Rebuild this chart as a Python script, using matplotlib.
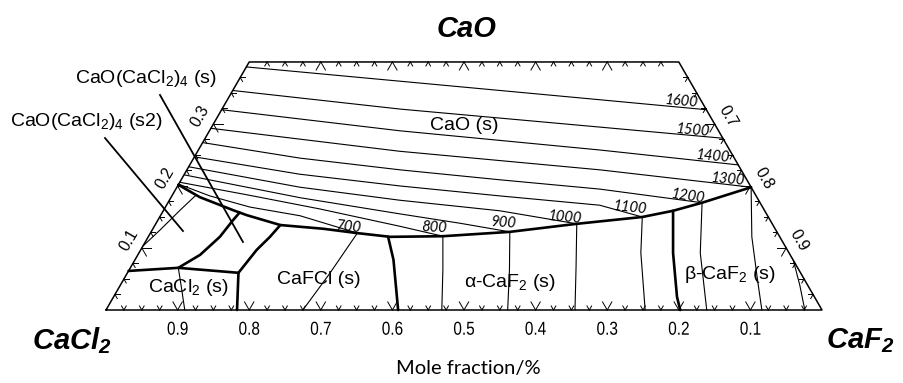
import numpy as np
import matplotlib
matplotlib.use("Agg")
import matplotlib.pyplot as plt
from matplotlib import font_manager
from matplotlib.font_manager import FontProperties
from matplotlib.textpath import TextPath
from matplotlib.patches import PathPatch
from matplotlib.transforms import Affine2D

H = np.sqrt(3) / 2
TOP = 0.4  # the diagram is cut at x(CaO) = 0.4
PT = (100 / 72) / 716  # one point in data units

plt.rcParams["mathtext.fontset"] = "custom"
plt.rcParams["mathtext.rm"] = "Liberation Sans"
plt.rcParams["mathtext.it"] = "Liberation Sans:italic"
plt.rcParams["mathtext.bf"] = "Liberation Sans:bold:italic"

# Compositions are (x_CaF2, x_CaO); x_CaCl2 is the remainder.
# Liquidus isotherms inside the CaO primary field
iso_cao = {
    "1600": [(0.000, 0.392), (0.226, 0.369), (0.521, 0.339), (0.677, 0.323)],
    "1500": [(0.000, 0.354), (0.249, 0.324), (0.542, 0.295), (0.723, 0.277)],
    "1400": [(0.000, 0.323), (0.266, 0.289), (0.561, 0.258), (0.766, 0.234)],
    "1300": [(0.000, 0.293), (0.282, 0.256), (0.577, 0.226), (0.802, 0.198)],
    "1200": [(0.000, 0.270), (0.148, 0.245), (0.298, 0.226), (0.445, 0.210), (0.592, 0.195), (0.746, 0.173)],
    "1100": [(0.000, 0.247), (0.161, 0.219), (0.311, 0.200), (0.458, 0.184), (0.605, 0.169), (0.674, 0.150)],
    "1000": [(0.000, 0.231), (0.172, 0.198), (0.322, 0.177), (0.470, 0.160), (0.588, 0.139)],
    "900": [(0.000, 0.218), (0.181, 0.181), (0.333, 0.155), (0.424, 0.140), (0.501, 0.126)],
    "800": [(0.000, 0.206), (0.108, 0.185), (0.217, 0.163), (0.343, 0.135), (0.411, 0.119)],
    "700": [(0.000, 0.203), (0.053, 0.184), (0.118, 0.166), (0.195, 0.152), (0.289, 0.124)],
}

# The same isotherms continued through the CaFCl and CaF2 fields
iso_solid = {
    "700": [(0.289, 0.124), (0.283, 0.059), (0.275, 0.0)],
    "800": [(0.411, 0.119), (0.438, 0.065), (0.469, 0.0)],
    "900": [(0.501, 0.126), (0.531, 0.065), (0.561, 0.0)],
    "1000": [(0.588, 0.139), (0.622, 0.069), (0.655, 0.0)],
    "1100": [(0.674, 0.150), (0.701, 0.092), (0.753, 0.0)],
    "1200": [(0.746, 0.173), (0.784, 0.092), (0.839, 0.0)],
    "1300": [(0.802, 0.198), (0.843, 0.118), (0.886, 0.048), (0.916, 0.0)],
    "1400": [(0.920, 0.080), (0.949, 0.040), (0.976, 0.0)],
}

# Thin isotherms near the CaCl2 corner
cacl2_iso = [(0.067, 0.068), (0.088, 0.035), (0.110, 0.0)]
s2_iso = [(0.0, 0.103), (0.011, 0.129), (0.023, 0.161), (0.033, 0.185)]

# Field boundaries
liquidus = [(0.000, 0.202), (0.040, 0.182), (0.097, 0.161), (0.120, 0.153), (0.175, 0.137),
            (0.238, 0.131), (0.289, 0.124), (0.338, 0.118), (0.411, 0.119), (0.501, 0.126),
            (0.588, 0.139), (0.674, 0.150), (0.712, 0.160), (0.746, 0.173), (0.802, 0.198)]
cacl2_top = [(0.000, 0.063), (0.067, 0.068), (0.155, 0.060)]
cacl2_cafcl = [(0.155, 0.060), (0.183, 0.0)]
s_cafcl = [(0.155, 0.060), (0.162, 0.097), (0.170, 0.118), (0.175, 0.137)]
s_s2 = [(0.067, 0.068), (0.087, 0.089), (0.100, 0.118), (0.105, 0.145), (0.108, 0.157)]
cafcl_caf2 = [(0.335, 0.118), (0.361, 0.081), (0.408, 0.0)]
alpha_beta = [(0.712, 0.160), (0.746, 0.092), (0.787, 0.021), (0.802, 0.0)]

bottom_ticks = ["0.9", "0.8", "0.7", "0.6", "0.5", "0.4", "0.3", "0.2", "0.1"]
left_ticks = ["0.1", "0.2", "0.3"]
right_ticks = ["0.9", "0.8", "0.7"]

# Isotherm label positions (cartesian) and rotation
iso_labels = [
    ("1600", 0.804, 0.291, -5), ("1500", 0.820, 0.251, -5), ("1400", 0.847, 0.214, -5),
    ("1300", 0.869, 0.182, -5), ("1200", 0.812, 0.158, -8), ("1100", 0.732, 0.143, -6),
    ("1000", 0.641, 0.129, -5), ("900", 0.555, 0.122, -4), ("800", 0.458, 0.115, -3),
    ("700", 0.339, 0.116, -5),
]


def to_xy(pts):
    p = np.asarray(pts, dtype=float)
    return p[:, 0] + p[:, 1] / 2, p[:, 1] * H


def line(ax, pts, lw, **kw):
    x, y = to_xy(pts)
    ax.plot(x, y, color="black", lw=lw, solid_capstyle="round", solid_joinstyle="round", **kw)


def ticks(ax, pts, angles, majors):
    for (x0, y0), major in zip(pts, majors):
        size = 0.013 if major else 0.0065
        for a in angles:
            r = np.deg2rad(a)
            ax.plot([x0, x0 + size * np.cos(r)], [y0, y0 + size * np.sin(r)],
                    color="black", lw=0.7)


def narrow_text(ax, x, y, s, size, squeeze, prop):
    # condensed lettering: outline of the string squeezed horizontally
    tp = TextPath((0, 0), s, size=size, prop=prop)
    bb = tp.get_extents()
    tr = (Affine2D().translate(-(bb.x0 + bb.x1) / 2, -(bb.y0 + bb.y1) / 2)
          .scale(squeeze * PT, PT).translate(x, y))
    ax.add_patch(PathPatch(tr.transform_path(tp), facecolor="black", edgecolor="none"))


fig = plt.figure(figsize=(9.04, 3.83), dpi=100)
ax = fig.add_axes([0, 0, 1, 1])
ax.set_xlim(-106 / 716, 798 / 716)
ax.set_ylim(-73 / 716, 310 / 716)
ax.axis("off")

# Outline of the truncated triangle
outline = [(0, 0), (1, 0), (1 - TOP, TOP), (0, TOP), (0, 0)]
line(ax, outline, 1.1)

# Edge ticks every 0.025, larger every 0.1
steps = np.arange(1, 40)
ticks(ax, [(s * 0.025, 0) for s in steps], [60, 120], steps % 4 == 0)
steps = np.arange(1, 24)
ticks(ax, [(s * 0.025 + TOP / 2, TOP * H) for s in steps], [240, 300], steps % 4 == 0)
steps = np.arange(1, 16)
ticks(ax, [(s * 0.025 / 2, s * 0.025 * H) for s in steps], [0, 300], steps % 4 == 0)
ticks(ax, [(1 - s * 0.025 / 2, s * 0.025 * H) for s in steps], [180, 240], steps % 4 == 0)

for pts in iso_cao.values():
    line(ax, pts, 0.8)
for pts in iso_solid.values():
    line(ax, pts, 0.8)
line(ax, cacl2_iso, 0.8)
line(ax, s2_iso, 0.8)

for pts in [liquidus, cacl2_top, cacl2_cafcl, s_cafcl, s_s2, cafcl_caf2, alpha_beta]:
    line(ax, pts, 1.9)

# Pointer lines for the two CaO(CaCl2)4 labels
ax.plot([0.0754, 0.1913], [0.3003, 0.0950], color="black", lw=1.3)
ax.plot([-0.0014, 0.1075], [0.2402, 0.1103], color="black", lw=1.3)

# Tick labels
plain = FontProperties(family="Liberation Sans")
for i, lab in enumerate(bottom_ticks):
    narrow_text(ax, (i + 1) * 0.1, -0.0255, lab, 13.5, 0.82, plain)
off = 0.021
for i, lab in enumerate(left_ticks):
    o = (i + 1) * 0.1
    ax.text(o / 2 - off * H, o * H + off / 2, lab, fontsize=11.5, rotation=60,
            family="Liberation Sans", ha="center", va="center", rotation_mode="anchor")
for i, lab in enumerate(right_ticks):
    o = (i + 1) * 0.1
    ax.text(1 - o / 2 + off * H, o * H + off / 2, lab, fontsize=11.5, rotation=-60,
            family="Liberation Sans", ha="center", va="center", rotation_mode="anchor")

for lab, x, y, rot in iso_labels:
    ax.text(x, y, lab, fontsize=10.5, family="Lato", style="italic",
            rotation=rot, ha="center", va="center", rotation_mode="anchor")

# Phase field labels
fields = [
    ("CaO (s)", 0.501, 0.258),
    ("CaO(CaCl$_2$)$_4$ (s)", 0.056, 0.324),
    ("CaO(CaCl$_2$)$_4$ (s2)", -0.027, 0.263),
    ("CaCl$_2$ (s)", 0.115, 0.031),
    ("CaFCl (s)", 0.297, 0.042),
    ("α-CaF$_2$ (s)", 0.564, 0.038),
    ("β-CaF$_2$ (s)", 0.872, 0.049),
]
for lab, x, y in fields:
    ax.text(x, y, lab, fontsize=14, family="Liberation Sans", ha="center", va="center")

# Component names at the corners
corner = dict(fontsize=21, family="Liberation Sans", weight="bold", style="italic",
              ha="center", va="center")
ax.text(0.5035, 0.392, "CaO", **corner)
ax.text(-0.047, -0.043, "CaCl$_\\mathbf{2}$", **corner)
ax.text(1.053, -0.043, "CaF$_\\mathbf{2}$", **corner)
ax.text(0.5056, -0.082, "Mole fraction/%", fontsize=14.5, family="Lato",
        ha="center", va="center")

fig.savefig("out.png", dpi=100)
plt.close(fig)
